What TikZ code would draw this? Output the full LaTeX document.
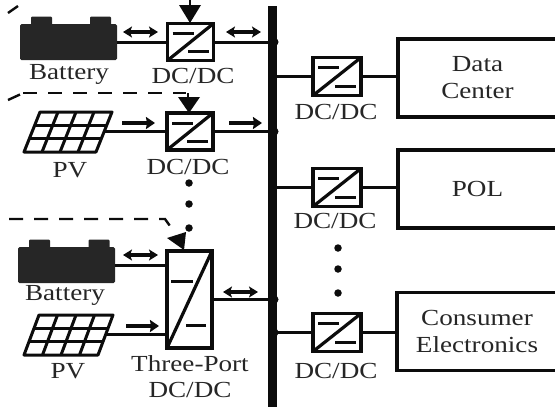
\documentclass[tikz,border=0pt]{standalone}
\usepackage{fontspec}
\setmainfont{Liberation Serif}
\usetikzlibrary{arrows.meta,calc}
\newcommand{\hsc}[1]{\scalebox{1.18}[1]{#1}}
\definecolor{ink}{HTML}{0C0C0C}
\definecolor{batt}{HTML}{262626}
\tikzset{
  wire/.style={draw=ink,line width=3pt},
  conv/.style={draw=ink,line width=3.6pt,rectangle,inner sep=0pt,minimum width=46pt,minimum height=37pt,
    path picture={
      \draw[ink,line width=3.2pt] (path picture bounding box.south west) -- (path picture bounding box.north east);
      \draw[ink,line width=3pt] ($(path picture bounding box.north west)+(5pt,-10pt)$) -- ++(21pt,0);
      \draw[ink,line width=3pt] ($(path picture bounding box.south east)+(-5pt,9pt)$) -- ++(-21pt,0);
    }},
  tport/.style={draw=ink,line width=3.6pt,rectangle,inner sep=0pt,minimum width=45pt,minimum height=97pt,
    path picture={
      \draw[ink,line width=3.2pt] (path picture bounding box.south west) -- (path picture bounding box.north east);
      \draw[ink,line width=3pt] ($(path picture bounding box.north west)+(4pt,-30pt)$) -- ++(22pt,0);
      \draw[ink,line width=3pt] ($(path picture bounding box.south east)+(-6pt,23pt)$) -- ++(-20pt,0);
    }},
  load/.style={draw=ink,line width=3.2pt,rectangle,inner sep=0pt,minimum height=78pt,align=center,
    font=\fontsize{23}{27}\selectfont,text=black!85},
  lab/.style={inner sep=0pt,font=\fontsize{23}{27}\selectfont,text=black!85},
  body/.style={fill=batt,rectangle,rounded corners=1.5pt,inner sep=0pt,minimum width=97pt,minimum height=36pt},
  lug/.style={fill=batt,rectangle,rounded corners=1pt,inner sep=0pt,minimum width=21pt,minimum height=9pt},
  dbl/.style={draw=ink,line width=3.2pt,{Stealth[length=9pt,width=11pt,inset=2pt]}-{Stealth[length=9pt,width=11pt,inset=2pt]}},
  sgl/.style={draw=ink,line width=3.2pt,-{Stealth[length=9pt,width=12pt,inset=1pt]}},
  ctrl/.style={draw=ink,line width=2.4pt,dash pattern=on 14pt off 11pt},
  tip/.style={fill=ink,draw=none},
  dotm/.style={circle,fill=ink,inner sep=0pt,minimum size=7.5pt},
  junc/.style={circle,fill=ink,inner sep=0pt,minimum size=8pt,xshift=2pt},
  cell/.style={draw=ink,line width=3pt,line join=round},
}
\begin{document}
\begin{tikzpicture}[x=1pt,y=-1pt]
\useasboundingbox (0,0) rectangle (555,407);

% bus
\coordinate (bust) at (272.5,6);
\coordinate (busb) at (272.5,407);
\draw[ink,line width=8.5pt] (bust) -- (busb);

% left converters
\node[conv] (c1) at (190.5,42) {};
\node[conv] (c2) at (190,131.5) {};
\node[tport] (tp) at (189.5,299.5) {};

% batteries
\node[body] (bat1) at (68.5,42) {};
\node[lug] at (41.5,21) {};
\node[lug] at (100.5,21) {};
\node[body] (bat3) at (66.5,265) {};
\node[lug] at (39.5,244) {};
\node[lug] at (99,244) {};

% PV panels
\coordinate (pv1) at (104,131.5);
\draw[cell] (40,112) -- (112,112) -- (96,152) -- (24,152) -- cycle;
\draw[cell] (34.7,125.3) -- (106.7,125.3);
\draw[cell] (29.3,138.7) -- (101.3,138.7);
\foreach \d in {18,36,54}{\draw[cell] (40+\d,112) -- (24+\d,152);}
\coordinate (pv3) at (106,334);
\draw[cell] (39,315) -- (113,315) -- (98,355) -- (24,355) -- cycle;
\draw[cell] (34,328.3) -- (108,328.3);
\draw[cell] (29,341.7) -- (103,341.7);
\foreach \d in {18.5,37,55.5}{\draw[cell] (39+\d,315) -- (24+\d,355);}

% right converters and loads
\node[conv,minimum height=38pt,minimum width=48pt] (c4) at (337,76.5) {};
\node[conv,minimum height=38pt,minimum width=48pt] (c5) at (337,187.5) {};
\node[conv,minimum height=38pt,minimum width=48pt] (c6) at (337,332.5) {};
\node[load,minimum width=159pt] (l4) at (477.5,78) {\hsc{Data}\\\hsc{Center}};
\node[load,minimum width=159pt] (l5) at (477.5,189) {\hsc{POL}};
\node[load,minimum width=160pt] (l6) at (477,331.5) {\hsc{Consumer}\\\hsc{Electronics}};

% wires
\draw[wire] (bat1.east) -- (c1.west);
\draw[wire] (c1.east) -- (c1.east -| bust);
\draw[wire] (pv1) -- (c2.west);
\draw[wire] (c2.east) -- (c2.east -| bust);
\draw[wire] (bat3.east) -- (bat3.east -| tp.west);
\draw[wire] (pv3) -- (pv3 -| tp.west);
\draw[wire] (tp.east) -- (tp.east -| bust);
\draw[wire] (c4.west -| bust) -- (c4.west);
\draw[wire] (c4.east) -- (l4.west |- c4.east);
\draw[wire] (c5.west -| bust) -- (c5.west);
\draw[wire] (c5.east) -- (l5.west |- c5.east);
\draw[wire] (c6.west -| bust) -- (c6.west);
\draw[wire] (c6.east) -- (l6.west |- c6.east);

% junctions
\node[junc] (j1) at (c1.east -| bust) {};
\node[junc] (j2) at (c2.east -| bust) {};
\node[junc] (j3) at (tp.east -| bust) {};
\node[junc] (j4) at (c6.west -| bust) {};

% power-flow arrows
\coordinate (a1) at (123,32);  \coordinate (a2) at (158,32);
\coordinate (a3) at (226,32);  \coordinate (a4) at (261,32);
\coordinate (a5) at (122,123); \coordinate (a6) at (155,123);
\coordinate (a7) at (229,123); \coordinate (a8) at (262,123);
\coordinate (a9) at (123,255); \coordinate (a10) at (158,255);
\coordinate (a11) at (126,326);\coordinate (a12) at (159,326);
\coordinate (a13) at (223,292);\coordinate (a14) at (258,292);
\draw[dbl] (a1) -- (a2);
\draw[dbl] (a3) -- (a4);
\draw[sgl] (a5) -- (a6);
\draw[sgl] (a7) -- (a8);
\draw[dbl] (a9) -- (a10);
\draw[sgl] (a11) -- (a12);
\draw[dbl] (a13) -- (a14);

% control signals
\draw[ink,line width=2.4pt] (190,0) -- (190,8);
\fill[tip] (179,5) -- (201,5) -- (190,23) -- cycle;
\draw[ink,line width=2.4pt] (8,13) -- (18,6);
\draw[ink,line width=2.4pt] (8,100) -- (20,94.5);
\draw[ctrl] (23,93) -- (186,93);
\draw[ink,line width=2.6pt] (188,93) -- (188,100);
\fill[tip] (178,97) -- (200,97) -- (189,113) -- cycle;
\draw[ctrl] (9,219) -- (165,219) -- (175,233);
\fill[tip] (167,238) -- (186,232) -- (184,250) -- cycle;

% ellipsis dots
\node[dotm] (d1) at (189,183) {};
\node[dotm] (d2) at (189,204) {};
\node[dotm] (d3) at (189,228) {};
\node[dotm] (d4) at (338,248) {};
\node[dotm] (d5) at (338,269) {};
\node[dotm] (d6) at (338,293) {};

% labels
\node[lab] (t1) at (69,74) {\hsc{Battery}};
\node[lab] (t2) at (193,76) {\hsc{DC/DC}};
\node[lab] (t3) at (70,170) {\hsc{PV}};
\node[lab] (t4) at (188,167) {\hsc{DC/DC}};
\node[lab] (t5) at (65,295) {\hsc{Battery}};
\node[lab] (t6) at (68,371) {\hsc{PV}};
\node[lab] (t7) at (190,364) {\hsc{Three-Port}};
\node[lab] (t8) at (190,390) {\hsc{DC/DC}};
\node[lab] (t9) at (336,112) {\hsc{DC/DC}};
\node[lab] (t10) at (335,221) {\hsc{DC/DC}};
\node[lab] (t11) at (336,371) {\hsc{DC/DC}};
\end{tikzpicture}
\end{document}
